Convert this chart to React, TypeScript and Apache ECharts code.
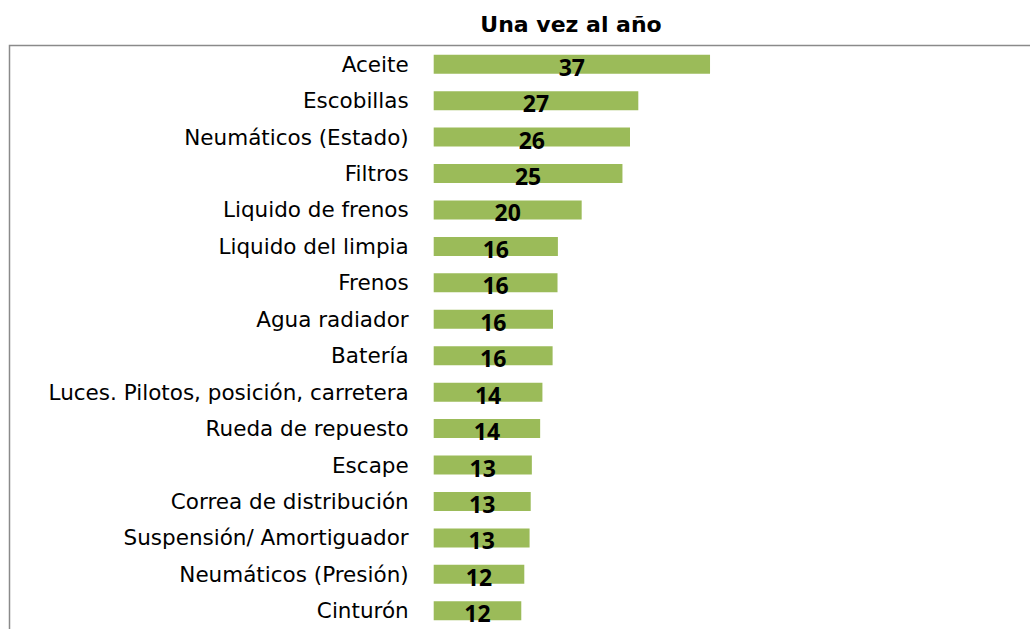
import React, { useEffect, useRef } from "react";
import * as echarts from "echarts";

const categories = [
  "Aceite",
  "Escobillas",
  "Neumáticos (Estado)",
  "Filtros",
  "Liquido de frenos",
  "Liquido del limpia",
  "Frenos",
  "Agua radiador",
  "Batería",
  "Luces. Pilotos, posición, carretera",
  "Rueda de repuesto",
  "Escape",
  "Correa de distribución",
  "Suspensión/ Amortiguador",
  "Neumáticos (Presión)",
  "Cinturón",
];

const values = [36.6, 27.1, 26.0, 25.0, 19.6, 16.45, 16.4, 15.8, 15.75, 14.4, 14.1, 13.0, 12.85, 12.7, 12.0, 11.6];

const title = "Una vez al año";

export default function App() {
  const ref = useRef<HTMLDivElement>(null);
  useEffect(() => {
    document.body.style.margin = "0";
    const chart = echarts.init(ref.current!, null, { renderer: "svg" });
    const labelFont = "'DejaVu Sans', sans-serif";
    const valueFont = "'Open Sans', 'Noto Sans', sans-serif";
    chart.setOption({
      animation: false,
      graphic: [
        {
          type: "rect",
          shape: { x: 9.5, y: 45.5, width: 1100, height: 700 },
          style: { fill: "none", stroke: "#8a8a8a", lineWidth: 1.5 },
          silent: true,
        },
        {
          type: "text",
          x: 571,
          y: 24,
          style: {
            text: title,
            fontFamily: labelFont,
            fontSize: 22,
            fontWeight: "bold",
            fill: "#000",
            textAlign: "center",
            textVerticalAlign: "middle",
          },
        },
      ],
      grid: { left: 433.7, top: 46, width: 588.9, height: 587.7, containLabel: false },
      xAxis: {
        type: "value",
        min: 0,
        max: 78,
        show: false,
        splitLine: { show: false },
      },
      yAxis: {
        type: "category",
        data: categories,
        inverse: true,
        axisLine: { show: false },
        axisTick: { show: false },
        axisLabel: {
          margin: 25,
          fontFamily: labelFont,
          fontSize: 21.5,
          color: "#000",
        },
      },
      series: [
        {
          type: "bar",
          data: values,
          barWidth: 19,
          itemStyle: { color: "#9BBB59" },
          label: {
            show: true,
            position: "inside",
            offset: [0, 2.5],
            formatter: (p: any) => String(Math.round(p.value)),
            fontFamily: valueFont,
            fontSize: 23,
            fontWeight: "bold",
            color: "#000",
          },
        },
      ],
    });
    return () => chart.dispose();
  }, []);
  return <div ref={ref} style={{ width: 1030, height: 629 }} />;
}
